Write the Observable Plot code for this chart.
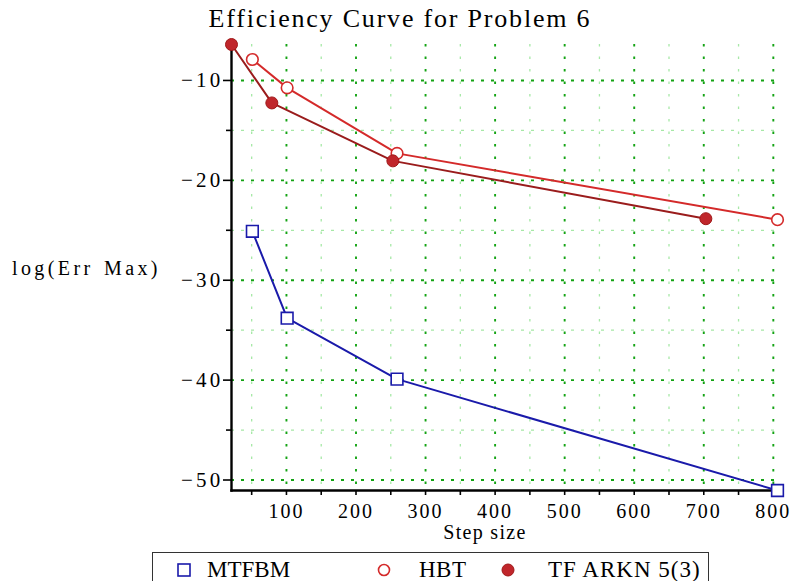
<!DOCTYPE html>
<html><head><meta charset="utf-8">
<script src="https://cdn.jsdelivr.net/npm/d3@7"></script>
<script src="https://cdn.jsdelivr.net/npm/@observablehq/plot@0.6"></script>
<style>
body{margin:0;background:#fff;width:791px;height:581px;overflow:hidden;position:relative;font-family:"Liberation Serif","Times New Roman",serif;color:#000;}
#chart{position:absolute;left:0;top:0;}
#chart svg text{letter-spacing:3.2px;font-family:"Liberation Serif","Times New Roman",serif !important;}
#chart svg g[aria-label="x-axis tick label"] text{letter-spacing:2px;}
.lbl{position:absolute;white-space:nowrap;line-height:1;}
#legend{position:absolute;left:152px;top:552px;width:557px;height:40px;border:1.5px solid #333;box-sizing:border-box;}
.li{position:absolute;top:4px;font-size:23px;white-space:nowrap;}
.ls{position:absolute;top:8px;}
</style></head><body>
<div id="chart"></div>
<div class="lbl" style="left:0;width:800px;text-align:center;top:6px;font-size:26px;letter-spacing:1.8px;">Efficiency Curve for Problem 6</div>
<div class="lbl" style="left:12px;top:258px;font-size:20px;letter-spacing:3.4px;word-spacing:2px;">log(Err Max)</div>
<div class="lbl" style="left:385px;width:200px;text-align:center;top:522px;font-size:20px;letter-spacing:1.3px;">Step size</div>
<div id="legend">
  <svg class="ls" style="left:22px" width="18" height="18"><rect x="3" y="3" width="12" height="12" fill="none" stroke="#1a1aaa" stroke-width="1.6"/></svg>
  <span class="li" style="left:54px">MTFBM</span>
  <svg class="ls" style="left:222px" width="18" height="18"><circle cx="9" cy="9" r="5.5" fill="none" stroke="#d42a2a" stroke-width="1.6"/></svg>
  <span class="li" style="left:266px;letter-spacing:0.5px">HBT</span>
  <svg class="ls" style="left:346px" width="18" height="18"><circle cx="9" cy="9" r="6" fill="#c0262b" stroke="#a01818"/></svg>
  <span class="li" style="left:395px;letter-spacing:1px">TF ARKN 5(3)</span>
</div>
<script>
// Series data (x = step size, y = log(Err Max))
const mtfbmX = [51, 101, 259, 806];
const mtfbmY = [-25.1, -33.8, -39.9, -51.05];
const hbtX = [51, 101, 259, 806];
const hbtY = [-7.9, -10.74, -17.3, -23.94];
const tfarknX = [21, 79, 253, 703];
const tfarknY = [-6.4, -12.25, -18.05, -23.84];

// Tick values
const xTicks = [100, 200, 300, 400, 500, 600, 700, 800];
const xMinor = [50, 150, 250, 350, 450, 550, 650, 750];
const yTicks = [-10, -20, -30, -40, -50];
const yMinor = [-15, -25, -35, -45];

const mk = (xs, ys) => xs.map((x, i) => ({x, y: ys[i]}));
const mtfbm = mk(mtfbmX, mtfbmY);
const hbt = mk(hbtX, hbtY);
const tfarkn = mk(tfarknX, tfarknY);
const all = [...mtfbm, ...hbt, ...tfarkn];

const blue = "#1a1aaa", red = "#d42a2a", dred = "#9a1c1c", dot = "#c0262b";
const serif = "Liberation Serif";

const chart = Plot.plot({
  width: 791,
  height: 545,
  marginLeft: 231,
  marginRight: 14,
  marginTop: 44,
  marginBottom: 55,
  style: {fontFamily: serif, fontSize: "21px", color: "#000", background: "transparent", overflow: "visible"},
  x: {domain: d3.extent(all, d => d.x)},
  y: {domain: d3.extent(all, d => d.y)},
  marks: [
    Plot.ruleX(xMinor, {stroke: "#a6e8a6", strokeWidth: 1.3, strokeDasharray: "2.5,10"}),
    Plot.ruleY(yMinor, {stroke: "#a6e8a6", strokeWidth: 1.3, strokeDasharray: "3,7"}),
    Plot.ruleX(xTicks, {stroke: "#14a314", strokeWidth: 1.9, strokeDasharray: "2.5,10"}),
    Plot.ruleY(yTicks, {stroke: "#14a314", strokeWidth: 1.9, strokeDasharray: "3,7"}),
    Plot.axisX({ticks: xTicks, tickSize: 5, tickPadding: 8, fontSize: 20, fontFamily: serif, label: null, strokeWidth: 1.6}),
    Plot.axisX({ticks: xMinor, tickSize: 5, tickFormat: () => "", label: null, strokeWidth: 1.6}),
    Plot.axisY({ticks: yTicks, tickSize: 8, tickPadding: 0, fontSize: 21, fontFamily: serif, label: null, strokeWidth: 1.6}),
    Plot.axisY({ticks: yMinor, tickSize: 5, tickFormat: () => "", label: null, strokeWidth: 1.6}),
    Plot.frame({anchor: "left", stroke: "#000", strokeWidth: 2.4}),
    Plot.frame({anchor: "bottom", stroke: "#000", strokeWidth: 2.4}),
    Plot.line(mtfbm, {x: "x", y: "y", stroke: blue, strokeWidth: 2}),
    Plot.line(hbt, {x: "x", y: "y", stroke: red, strokeWidth: 2}),
    Plot.line(tfarkn, {x: "x", y: "y", stroke: dred, strokeWidth: 2}),
    Plot.dot(mtfbm, {x: "x", y: "y", symbol: "square", r: 6.6, stroke: blue, strokeWidth: 1.6, fill: "white"}),
    Plot.dot(hbt, {x: "x", y: "y", r: 5.8, stroke: red, strokeWidth: 1.6, fill: "white"}),
    Plot.dot(tfarkn, {x: "x", y: "y", r: 6, fill: dot, stroke: "#a01818", strokeWidth: 1})
  ]
});
document.getElementById("chart").appendChild(chart);
</script>
</body></html>
